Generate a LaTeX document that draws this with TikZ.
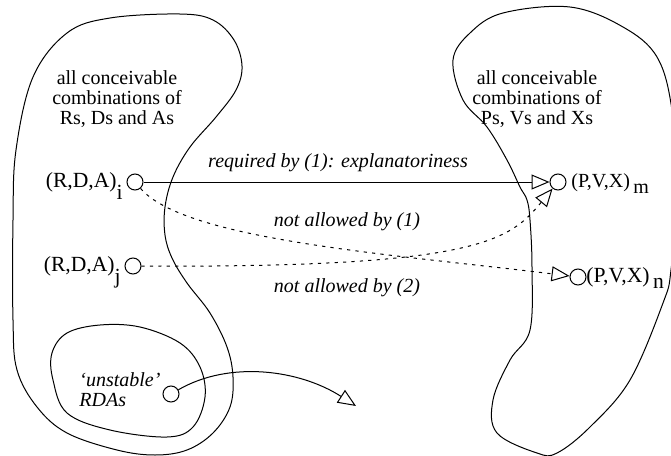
\documentclass[tikz,border=0pt]{standalone}
\usepackage{fontspec}
\setmainfont{Liberation Serif}
\usetikzlibrary{arrows.meta}
\tikzset{
  blob/.style={line width=0.5pt},
  dot/.style={draw, circle, minimum size=8pt, inner sep=0pt, line width=0.5pt},
  lbl/.style={inner sep=0pt, font=\fontsize{10}{10}\selectfont},
  tupleLbl/.style={inner sep=0pt, font=\fontsize{10.8}{10}\selectfont},
  edgeLbl/.style={lbl, font=\fontsize{10}{10}\selectfont\itshape},
  openTip/.style={line width=0.5pt, -{Triangle[open, length=9pt, width=7.5pt]}},
  dotLine/.style={dash pattern=on 1.6pt off 2.6pt}
}
\begin{document}
\begin{tikzpicture}[x=0.5pt, y=-0.5pt]
  \useasboundingbox (0,0) rectangle (671,456);
  \draw[blob] plot[smooth cycle, tension=0.6] coordinates {
    (180,14) (213,20) (234,40) (242,66) (236,90) (216,117) (190,147) (173,177)
    (165,207) (165,235) (172,258) (187,283) (210,313) (227,347) (233,377)
    (230,407) (213,433) (187,450) (155,455) (117,450) (67,433) (37,407)
    (17,370) (13,320) (13,220) (16,150) (33,77) (67,33) (110,18)};
  \draw[blob] plot[smooth cycle, tension=0.6] coordinates {
    (570,7) (623,27) (657,57) (672,110) (677,190) (671,270) (663,303)
    (630,380) (590,427) (557,453) (537,453) (497,433) (493,400) (510,360)
    (530,330) (532,267) (530,220) (527,200) (520,187) (507,160) (487,127)
    (463,100) (453,60) (470,33) (503,13)};
  \draw[blob] plot[smooth cycle, tension=0.6] coordinates {
    (100,325) (140,327) (180,343) (200,367) (205,397) (193,427) (167,437)
    (110,430) (67,413) (53,380) (52,353) (67,333)};

  \node[lbl, align=center] (leftTxt) at (117,99) {all conceivable\\combinations of\\Rs, Ds and As};
  \node[lbl, align=center] (rightTxt) at (537,99) {all conceivable\\combinations of\\Ps, Vs and Xs};

  \node[dot] (ri) at (135,182) {};
  \node[dot] (rj) at (133,266) {};
  \node[dot] (ru) at (171,394) {};
  \node[dot] (pm) at (558,182) {};
  \node[dot] (pn) at (578,277) {};
  \coordinate (ue) at (356,406);

  \node[tupleLbl, anchor=base east] (lri) at (123,187) {(R,D,A)\raisebox{-6pt}{i}};
  \node[tupleLbl, anchor=base east] (lrj) at (121,271) {(R,D,A)\raisebox{-6pt}{j}};
  \node[lbl, anchor=base west] (lpm) at (571,187) {(P,V,X)\,\raisebox{-3pt}{m}};
  \node[tupleLbl, anchor=base west] (lpn) at (586,282) {(P,V,X)\,\raisebox{-3pt}{n}};
  \node[edgeLbl, align=left, anchor=west] (uTxt) at (79,390) {`unstable'\\RDAs};

  \node[edgeLbl] (req) at (338,163) {required by (1): explanatoriness};
  \node[edgeLbl] (na1) at (347,222) {not allowed by (1)};
  \node[edgeLbl] (na2) at (347,288) {not allowed by (2)};

  \draw[openTip] (ri) -- (pm);
  \draw[openTip, dotLine] (ri) .. controls (185,240) and (390,254) .. (pn);
  \draw[openTip, dotLine] (rj) .. controls (480,268) and (510,240) .. (pm);
  \draw[openTip] (ru) .. controls (230,360) and (300,370) .. (ue);
\end{tikzpicture}
\end{document}
